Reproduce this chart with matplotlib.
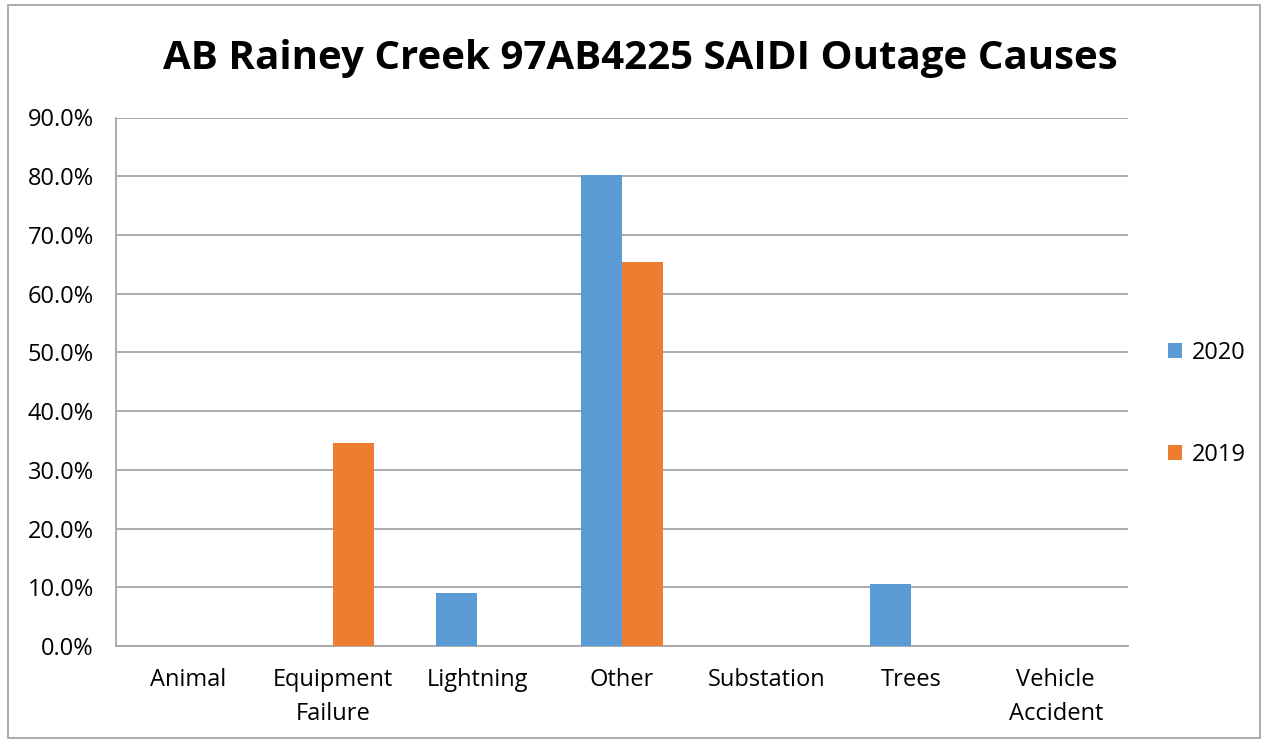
import numpy as np
import matplotlib.pyplot as plt
from matplotlib.patches import Rectangle
from matplotlib.ticker import PercentFormatter

plt.rcParams['font.family'] = ['Open Sans', 'DejaVu Sans']

categories = ['Animal', 'Equipment\nFailure', 'Lightning', 'Other',
              'Substation', 'Trees', 'Vehicle\nAccident']
y2020 = [0.0, 0.0, 9.1, 80.2, 0.0, 10.5, 0.0]
y2019 = [0.0, 34.5, 0.0, 65.4, 0.0, 0.0, 0.0]

blue = '#5B9BD5'
orange = '#ED7D31'

fig = plt.figure(figsize=(12.66, 7.42), dpi=100)
ax = fig.add_axes([116 / 1266, 1 - 646 / 742, (1128 - 116) / 1266, (646 - 117.5) / 742])

x = np.arange(len(categories))
w = 0.287
b1 = ax.bar(x - w / 2, y2020, w, color=blue, label='2020', zorder=3)
b2 = ax.bar(x + w / 2, y2019, w, color=orange, label='2019', zorder=3)

ax.set_xlim(-0.5, len(categories) - 0.5)
ax.set_ylim(0, 90)
ax.set_yticks(np.arange(0, 91, 10))
ax.yaxis.set_major_formatter(PercentFormatter(decimals=1))
ax.set_xticks(x)
ax.set_xticklabels(categories, fontsize=17, linespacing=1.55)
ax.tick_params(axis='y', labelsize=17, length=0, pad=16)
ax.tick_params(axis='x', length=0, pad=16)
ax.grid(axis='y', color='#A6A6A6', linewidth=1.3, zorder=0)
for s in ['top', 'right']:
    ax.spines[s].set_visible(False)
ax.spines['left'].set_color('#A6A6A6')
ax.spines['left'].set_linewidth(1.3)
ax.spines['bottom'].set_color('#A6A6A6')
ax.spines['bottom'].set_linewidth(1.3)

fig.text(640 / 1266, 1 - 59 / 742, 'AB Rainey Creek 97AB4225 SAIDI Outage Causes',
         ha='center', va='center', fontsize=29, fontweight='bold')

leg = fig.legend(handles=[b1, b2], loc='center left',
                 bbox_to_anchor=(1168 / 1266, 1 - 404 / 742),
                 frameon=False, fontsize=17, handlelength=0.6, handleheight=0.6,
                 handletextpad=0.4, labelspacing=3.3, borderpad=0, borderaxespad=0)

fig.patches.append(Rectangle((8 / 1266, 4 / 742), 1252 / 1266, 733 / 742,
                             transform=fig.transFigure, fill=False,
                             edgecolor='#A6A6A6', linewidth=1.3))

fig.savefig('out.png', dpi=100)
